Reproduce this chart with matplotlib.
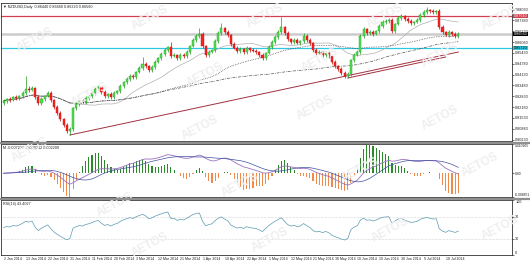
import numpy as np
import pandas as pd
import matplotlib
matplotlib.use("Agg")
import matplotlib.pyplot as plt
from matplotlib.lines import Line2D

plt.rcParams["font.family"] = ["Liberation Sans", "DejaVu Sans"]

# ---------------- data ----------------
first_open = 0.8240
closes = [
    0.8254, 0.8266, 0.8260, 0.8278, 0.8272, 0.8284, 0.8302, 0.8326, 0.8320, 0.8332,
    0.8278, 0.8242, 0.8266, 0.8284, 0.8302, 0.8260, 0.8218, 0.8182, 0.8146, 0.8110,
    0.8074, 0.8086, 0.8212, 0.8236, 0.8254, 0.8248, 0.8272, 0.8284, 0.8302, 0.8326,
    0.8338, 0.8308, 0.8284, 0.8296, 0.8278, 0.8302, 0.8314, 0.8344, 0.8368, 0.8386,
    0.8404, 0.8398, 0.8428, 0.8452, 0.8476, 0.8464, 0.8440, 0.8458, 0.8488, 0.8512,
    0.8536, 0.8560, 0.8578, 0.8524, 0.8530, 0.8512, 0.8530, 0.8524, 0.8548, 0.8584,
    0.8620, 0.8644, 0.8656, 0.8584, 0.8530, 0.8548, 0.8560, 0.8614, 0.8662, 0.8692,
    0.8668, 0.8650, 0.8596, 0.8572, 0.8554, 0.8566, 0.8548, 0.8572, 0.8560, 0.8554,
    0.8548, 0.8530, 0.8512, 0.8542, 0.8578, 0.8608, 0.8638, 0.8668, 0.8698, 0.8662,
    0.8626, 0.8608, 0.8620, 0.8602, 0.8614, 0.8644, 0.8620, 0.8602, 0.8560, 0.8542,
    0.8548, 0.8530, 0.8542, 0.8524, 0.8488, 0.8464, 0.8446, 0.8422, 0.8404, 0.8416,
    0.8500, 0.8530, 0.8548, 0.8644, 0.8686, 0.8662, 0.8668, 0.8656, 0.8674, 0.8704,
    0.8728, 0.8734, 0.8740, 0.8674, 0.8716, 0.8752, 0.8764, 0.8746, 0.8734, 0.8722,
    0.8728, 0.8740, 0.8770, 0.8788, 0.8800, 0.8794, 0.8788, 0.8794, 0.8698, 0.8668,
    0.8650, 0.8668, 0.8656, 0.8644, 0.8656,
]
# wick lengths in pips
upper_wick = [
    10, 8, 14, 9, 12, 7, 11, 78, 16, 13,
    9, 12, 15, 8, 11, 14, 7, 10, 12, 9,
    13, 10, 8, 14, 9, 12, 10, 7, 13, 11,
    15, 9, 12, 8, 10, 14, 9, 11, 7, 13,
    10, 12, 8, 15, 42, 11, 9, 13, 10, 8,
    12, 14, 9, 30, 11, 8, 13, 10, 12, 9,
    14, 10, 36, 12, 8, 11, 9, 13, 10, 30,
    9, 12, 8, 14, 10, 11, 9, 13, 7, 12,
    10, 8, 14, 9, 12, 11, 10, 13, 60, 9,
    12, 8, 11, 14, 9, 20, 10, 12, 8, 11,
    13, 9, 10, 12, 8, 14, 9, 11, 10, 12,
    9, 13, 11, 10, 14, 8, 12, 10, 9, 13,
    11, 10, 12, 14, 9, 11, 13, 8, 10, 12,
    9, 11, 13, 10, 18, 9, 11, 8, 12, 10,
    9, 13, 8, 11, 10,
]
lower_wick = [
    11, 9, 13, 8, 10, 12, 9, 14, 10, 8,
    12, 10, 9, 13, 8, 11, 14, 9, 12, 10,
    13, 24, 10, 9, 12, 8, 11, 13, 9, 10,
    8, 12, 10, 14, 9, 11, 8, 12, 10, 9,
    13, 10, 12, 8, 11, 9, 14, 10, 12, 8,
    10, 9, 13, 11, 8, 12, 10, 9, 14, 11,
    8, 12, 10, 9, 13, 11, 8, 10, 12, 9,
    11, 10, 14, 8, 12, 9, 11, 10, 13, 8,
    10, 12, 9, 11, 8, 13, 10, 9, 12, 11,
    9, 10, 13, 8, 12, 10, 11, 9, 14, 10,
    8, 12, 10, 11, 9, 13, 10, 12, 12, 9,
    11, 10, 8, 13, 9, 12, 10, 11, 8, 10,
    12, 9, 11, 10, 13, 8, 10, 12, 9, 11,
    10, 8, 12, 9, 11, 10, 13, 9, 10, 12,
    8, 11, 10, 9, 12,
]
red_level = 0.8764
cyan_level = 0.8572
trend_lines = [((21, 0.8050), (144, 0.8548)), ((109, 0.8392), (140, 0.8518))]
price_ticks = [0.80230, 0.80880, 0.81530, 0.82180, 0.82830, 0.83480, 0.84130,
               0.84780, 0.85430, 0.86080, 0.86730, 0.87380, 0.88030]
rsi_seed = 0.0012   # average gain/loss carried in from before the window
watermarks = [(35, 40), (150, 18), (265, 16), (385, 16), (500, 18),
              (90, 95), (205, 75), (320, 60), (440, 55),
              (30, 150), (200, 128), (315, 108), (440, 118),
              (115, 205), (240, 185), (360, 170), (480, 165),
              (150, 245), (270, 240), (390, 230), (500, 228)]

# ---------------- derived series ----------------
closes = np.array(closes)
n = len(closes)
idx = np.arange(n)
opens = np.r_[first_open, closes[:-1]]
highs = np.maximum(opens, closes) + np.array(upper_wick) * 1e-4
lows = np.minimum(opens, closes) - np.array(lower_wick) * 1e-4

days = pd.bdate_range("2014-01-02", periods=n + 5)
days = days[days != pd.Timestamp("2014-04-18")][:n]

s = pd.Series(closes)
sma20 = s.rolling(20, min_periods=1).mean()
sma50 = s.rolling(50, min_periods=1).mean()
sma100 = s.rolling(100, min_periods=1).mean()

ema12 = s.ewm(span=12, adjust=False).mean()
ema26 = s.ewm(span=26, adjust=False).mean()
macd = ema12 - ema26
signal = macd.rolling(9, min_periods=1).mean()
osma = 3 * (macd - signal)

delta = pd.Series(np.r_[0.0, np.diff(closes)])
up_d = delta.clip(lower=0)
dn_d = -delta.clip(upper=0)
up_d[0] = rsi_seed
dn_d[0] = rsi_seed
gain = up_d.ewm(alpha=1 / 14, adjust=False).mean()
loss = dn_d.ewm(alpha=1 / 14, adjust=False).mean()
rsi = 100 - 100 / (1 + gain / loss)

# ---------------- figure ----------------
fs = 2.7
fig = plt.figure(figsize=(5.3, 2.64), dpi=100)
ax1 = fig.add_axes([0.002, 0.4659, 0.964, 0.5227])
ax2 = fig.add_axes([0.002, 0.2538, 0.964, 0.2008])
ax3 = fig.add_axes([0.002, 0.0341, 0.964, 0.2083])
xmax = 161

for ax in (ax1, ax2, ax3):
    ax.set_xlim(-0.8, xmax)
    for sp in ax.spines.values():
        sp.set_linewidth(0.6)
        sp.set_color("#303030")
    ax.yaxis.tick_right()
    ax.tick_params(axis="y", labelsize=fs, length=1.5, width=0.4, pad=0.8,
                   labelcolor="#202020")
    ax.tick_params(axis="x", length=0)
    ax.set_xticks([])
    ax.patch.set_alpha(0)

# watermarks
for wx, wy in watermarks:
    fig.text(wx / 530, 1 - wy / 264, "AETOS", fontsize=8.5, fontweight="bold",
             color="#efefef", rotation=28, ha="center", va="center", zorder=0)

# main panel
ax1.set_ylim(0.8014, 0.8842)
ax1.set_yticks(price_ticks)
ax1.set_yticklabels([f"{p:.5f}" for p in price_ticks])

ax1.axhline(red_level, color="#d04050", lw=0.9, zorder=1)
ax1.axhline(closes[-1], color="#cccccc", lw=1.8, zorder=1)
ax1.axhline(cyan_level, color="#30c8e0", lw=0.9, zorder=1)

ax1.plot(idx, sma20, color="#b0b0b0", lw=0.5, zorder=2)
ax1.plot(idx, sma50, color="#303030", lw=0.5, ls=(0, (1, 1.5)), zorder=2)
ax1.plot(idx, sma100, color="#505050", lw=0.5, ls=(0, (4, 1.5, 1, 1.5)), zorder=2)

for (x0, y0), (x1, y1) in trend_lines:
    ax1.plot([x0, x1], [y0, y1], color="#a03040", lw=0.7, zorder=2)

up = closes >= opens
ax1.vlines(idx[up], lows[up], highs[up], color="#1f9a1f", lw=0.5, zorder=3)
ax1.vlines(idx[~up], lows[~up], highs[~up], color="#c01010", lw=0.5, zorder=3)
ax1.bar(idx[up], (closes - opens)[up], bottom=opens[up], width=0.65,
        color="#55e055", edgecolor="#1f9a1f", lw=0.3, zorder=4)
ax1.bar(idx[~up], (opens - closes)[~up], bottom=closes[~up], width=0.65,
        color="#ff2020", edgecolor="#c01010", lw=0.3, zorder=4)

ytr = ax1.get_yaxis_transform()
for lvl, fc, tc in ((red_level, "#d04050", "white"), (closes[-1], "black", "white"),
                    (cyan_level, "#30c8e0", "black")):
    ax1.text(1.003, lvl, f"{lvl:.5f}", transform=ytr, fontsize=fs, color=tc,
             va="center", ha="left", clip_on=False, zorder=6,
             bbox=dict(boxstyle="square,pad=0.12", fc=fc, ec="none"))

ax1.text(0.004, 0.988, f"\u25bc NZDUSD,Daily  {opens[-1]:.5f} {highs[-1]:.5f} "
         f"{lows[-1]:.5f} {closes[-1]:.5f}", transform=ax1.transAxes,
         fontsize=fs, va="top", ha="left", color="#202020")

# MACD panel
lo = min(osma.min(), macd.min(), signal.min())
hi = max(osma.max(), macd.max(), signal.max())
ax2.set_ylim(lo, hi)
ax2.set_yticks([hi, 0, lo])
ax2.set_yticklabels([f"{hi:.6f}", "0.00", f"{lo:.6f}"])
ax2.tick_params(axis="y", labelsize=2.4)
labs = ax2.get_yticklabels()
labs[0].set_va("top")
labs[2].set_va("bottom")
pos = osma >= 0
ax2.bar(idx[pos], osma[pos], width=0.35, color="#2a8a2a", zorder=3)
ax2.bar(idx[~pos], osma[~pos], width=0.35, color="#f08a4a", zorder=3)
ax2.plot(idx, macd, color="#9a70c0", lw=0.6, zorder=4)
ax2.plot(idx, signal, color="#4050a0", lw=0.5, zorder=4)
ax2.text(0.004, 0.97, f"M {osma.iloc[-1]:.6f} {macd.iloc[-1]:.6f} {signal.iloc[-1]:.6f}",
         transform=ax2.transAxes, fontsize=fs, va="top", ha="left", color="#202020")

# RSI panel
ax3.set_ylim(0, 100)
ax3.set_yticks([100, 70, 30, 0])
ax3.set_yticklabels(["100", "70", "30", "0"])
labs = ax3.get_yticklabels()
labs[0].set_va("top")
labs[3].set_va("bottom")
for lvl in (70, 30):
    ax3.axhline(lvl, color="#b0b0b0", lw=0.4, ls=(0, (1, 1.5)))
ax3.plot(idx, rsi, color="#5a9ab0", lw=0.5)
ax3.text(0.004, 0.97, f"RSI(14) {rsi.iloc[-1]:.4f}", transform=ax3.transAxes,
         fontsize=fs, va="top", ha="left", color="#202020")

# date labels
for i in idx[::7]:
    ax3.text(i, -3, f"{days[i].day} {days[i]:%b %Y}", fontsize=2.55, ha="left",
             va="top", color="#202020", clip_on=False)

# panel separators
for yy in (142.5, 198.5):
    fig.add_artist(Line2D([0, 1], [1 - yy / 264] * 2, color="#909090", lw=1.6))

fig.savefig("out.png", dpi=100)
